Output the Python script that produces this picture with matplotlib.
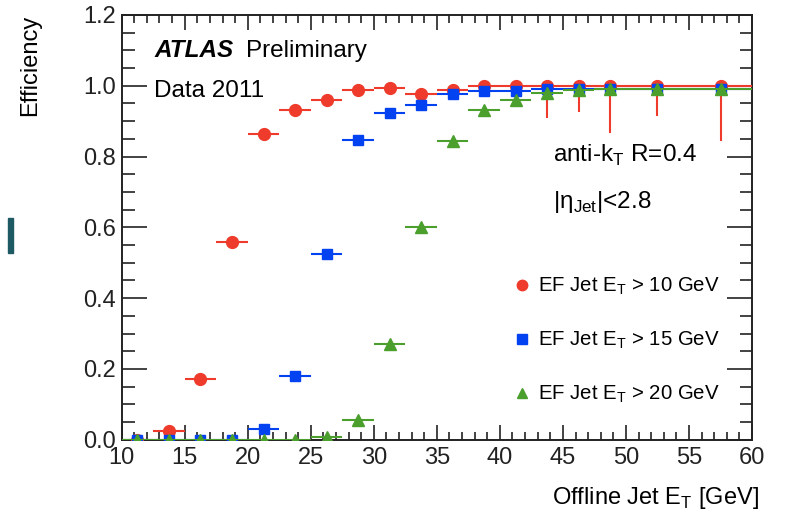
import numpy as np
import matplotlib.pyplot as plt
from matplotlib.lines import Line2D
from matplotlib.patches import Rectangle
from matplotlib.ticker import MultipleLocator

plt.rcParams['font.family'] = ['Liberation Sans', 'DejaVu Sans']
plt.rcParams['mathtext.fontset'] = 'custom'
plt.rcParams['mathtext.rm'] = 'Liberation Sans'

# offline jet ET bins (centres and half widths)
et_centres = [11.25, 13.75, 16.25, 18.75, 21.25, 23.75, 26.25, 28.75, 31.25,
              33.75, 36.25, 38.75, 41.25, 43.75, 46.25, 48.75, 52.5, 57.5]
et_halfwidth = [1.25] * 16 + [2.5, 2.5]

eff_10 = [0.0, 0.025, 0.172, 0.559, 0.864, 0.932, 0.96, 0.988, 0.994,
          0.977, 0.988, 0.999, 1.0, 1.0, 1.0, 1.0, 1.0, 1.0]
eff_10_lo = [0, 0, 0, 0, 0, 0, 0, 0, 0, 0, 0.028, 0, 0, 0.091, 0.074, 0.133, 0.085, 0.156]

eff_15 = [0.0, 0.0, 0.0, 0.0, 0.03, 0.18, 0.525, 0.847, 0.923,
          0.946, 0.977, 0.985, 0.985, 0.99, 0.99, 0.99, 0.99, 0.99]

eff_20 = [0.0, 0.0, 0.0, 0.0, 0.0, 0.0, 0.008, 0.057, 0.27,
          0.6, 0.845, 0.93, 0.96, 0.98, 0.988, 0.99, 0.99, 0.99]

labels = [r'EF Jet E$_\mathregular{T}$ > 10 GeV',
          r'EF Jet E$_\mathregular{T}$ > 15 GeV',
          r'EF Jet E$_\mathregular{T}$ > 20 GeV']
red = '#ee3b2b'
blue = '#0342f0'
green = '#4b9f2d'

fig = plt.figure(figsize=(7.85, 5.12), dpi=100)
ax = fig.add_axes([0.155, 0.141, 0.803, 0.830])

zeros = np.zeros(len(et_centres))
ax.errorbar(et_centres, eff_10, xerr=et_halfwidth, yerr=[eff_10_lo, zeros],
            fmt='o', color=red, ms=8.5, elinewidth=1.5, capsize=0, zorder=3)
ax.errorbar(et_centres, eff_15, xerr=et_halfwidth,
            fmt='s', color=blue, ms=7.5, elinewidth=1.5, capsize=0, zorder=4)
ax.errorbar(et_centres, eff_20, xerr=et_halfwidth,
            fmt='^', color=green, ms=8.5, elinewidth=1.5, capsize=0, zorder=5)

ax.set_xlim(10, 60)
ax.set_ylim(0, 1.2)
ax.xaxis.set_major_locator(MultipleLocator(5))
ax.xaxis.set_minor_locator(MultipleLocator(1))
ax.yaxis.set_major_locator(MultipleLocator(0.2))
ax.yaxis.set_minor_locator(MultipleLocator(0.05))
ax.yaxis.set_major_formatter(plt.FormatStrFormatter('%.1f'))
ax.tick_params(which='both', direction='in', top=True, right=True,
               labelsize=17, width=1.2, colors='#222222')
ax.tick_params(axis='x', which='major', length=11, pad=5)
ax.tick_params(axis='x', which='minor', length=6)
ax.tick_params(axis='y', which='major', length=18, pad=4)
ax.tick_params(axis='y', which='minor', length=9)
for s in ax.spines.values():
    s.set_linewidth(1.4)
    s.set_color('#222222')

fig.text(0.039, 0.972, 'Efficiency', rotation=90, ha='center', va='top', fontsize=17)
fig.text(759 / 785, 0.028, r'Offline Jet E$_\mathregular{T}$ [GeV]', ha='right', va='center', fontsize=17)

ax.text(0.052, 0.901, 'ATLAS', transform=ax.transAxes, fontsize=17.5,
        fontweight='bold', style='italic', va='baseline')
ax.text(0.198, 0.901, 'Preliminary', transform=ax.transAxes, fontsize=17.5, va='baseline')
ax.text(0.052, 0.807, 'Data 2011', transform=ax.transAxes, fontsize=17.5, va='baseline')
ax.text(0.684, 0.654, r'anti-k$_\mathregular{T}$ R=0.4', transform=ax.transAxes, fontsize=17.5, va='baseline')
ax.text(0.684, 0.546, r'|η$_\mathregular{Jet}$|<2.8', transform=ax.transAxes, fontsize=17.5, va='baseline')

handles = [Line2D([], [], marker='o', ls='none', color=red, ms=7.5),
           Line2D([], [], marker='s', ls='none', color=blue, ms=6.5),
           Line2D([], [], marker='^', ls='none', color=green, ms=7.5)]
ax.legend(handles, labels, loc='upper left', bbox_to_anchor=(0.616, 0.386),
          frameon=False, fontsize=14.7, labelspacing=1.6, handletextpad=0.17,
          handlelength=1.2, borderpad=0, borderaxespad=0)

fig.patches.append(Rectangle((8 / 785, 1 - 253 / 512), 5 / 785, 35 / 512,
                             transform=fig.transFigure, color='#1e5a64', zorder=0))

fig.savefig('out.png', dpi=100)
